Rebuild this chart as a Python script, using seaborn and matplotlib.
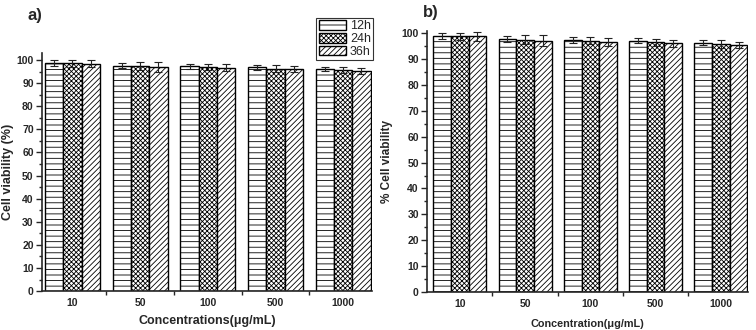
import matplotlib
matplotlib.use("Agg")
import matplotlib.pyplot as plt
import seaborn as sns
import pandas as pd
from matplotlib.ticker import MultipleLocator

# concentrations and time points
concentrations = ["10", "50", "100", "500", "1000"]
times = ["12h", "24h", "36h"]

# panel a) viability (%)
a_12h = [98.8, 97.6, 97.3, 96.9, 96.2]
a_24h = [98.6, 97.3, 97.0, 96.3, 95.8]
a_36h = [98.4, 97.0, 96.7, 96.0, 95.2]
a_err_12h = [1.2, 1.2, 1.1, 1.1, 1.0]
a_err_24h = [1.6, 1.7, 1.4, 1.5, 1.3]
a_err_36h = [1.5, 2.0, 1.5, 1.3, 1.3]

# panel b) viability (%)
b_12h = [99.0, 97.8, 97.4, 97.0, 96.3]
b_24h = [98.7, 97.5, 97.1, 96.5, 95.8]
b_36h = [98.7, 97.1, 96.7, 96.1, 95.4]
b_err_12h = [1.2, 1.2, 1.1, 1.0, 1.0]
b_err_24h = [1.5, 1.6, 1.5, 1.4, 1.4]
b_err_36h = [1.6, 2.2, 1.5, 1.4, 1.3]

hatches = ["---", "xxxxxxx", "//////"]

sns.set_style("ticks")
plt.rcParams["font.family"] = ["Liberation Sans", "DejaVu Sans"]
plt.rcParams["font.weight"] = "bold"
plt.rcParams["hatch.linewidth"] = 0.6


def make_df(v12, v24, v36):
    rows = []
    for vals, t in zip([v12, v24, v36], times):
        for c, v in zip(concentrations, vals):
            rows.append({"conc": c, "time": t, "val": v})
    return pd.DataFrame(rows)


def draw(ax, vals, errs, ylim, xlim):
    df = make_df(*vals)
    sns.barplot(data=df, x="conc", y="val", hue="time", order=concentrations,
                hue_order=times, palette={t: "white" for t in times},
                edgecolor="black", linewidth=1.0, errorbar=None, width=0.81,
                ax=ax, legend=True)
    bar_conts = list(ax.containers)
    for i, cont in enumerate(bar_conts):
        for bar, e in zip(cont, errs[i]):
            bar.set_hatch(hatches[i])
            bar.set_edgecolor("black")
            cx = bar.get_x() + bar.get_width() / 2
            ax.errorbar(cx, bar.get_height(), yerr=e, color="#222222",
                        capsize=3, elinewidth=0.8, capthick=0.8)
    ax.set_ylim(*ylim)
    ax.set_xlim(*xlim)
    ax.yaxis.set_major_locator(MultipleLocator(10))
    ax.yaxis.set_minor_locator(MultipleLocator(5))
    ax.set_xticks(range(len(concentrations)))
    ax.set_xticklabels(concentrations)
    ax.set_xticks([i + 0.5 for i in range(len(concentrations) - 1)], minor=True)
    ax.tick_params(axis="x", which="major", length=0, labelsize=7.5, pad=5)
    ax.tick_params(axis="x", which="minor", length=3, width=1)
    ax.tick_params(axis="y", which="major", length=4, width=1, labelsize=7.5, pad=2)
    ax.tick_params(axis="y", which="minor", length=2, width=1)
    for s in ["left", "bottom"]:
        ax.spines[s].set_linewidth(1.2)
    sns.despine(ax=ax)


fig = plt.figure(figsize=(7.56, 3.3), dpi=100)
ax1 = fig.add_axes([0.0556, 0.118, 0.436, 0.721])
ax2 = fig.add_axes([0.565, 0.115, 0.424, 0.791])

draw(ax1, [a_12h, a_24h, a_36h], [a_err_12h, a_err_24h, a_err_36h], (0, 103), (-0.45, 4.42))
draw(ax2, [b_12h, b_24h, b_36h], [b_err_12h, b_err_24h, b_err_36h], (0, 100.8), (-0.5, 4.41))

ax1.set_xlabel("Concentrations(\u03bcg/mL)", fontsize=9, fontweight="bold", labelpad=5)
ax1.set_ylabel("Cell viability (%)", fontsize=9, fontweight="bold", labelpad=2)
ax2.set_xlabel("Concentration(\u03bcg/mL)", fontsize=7.8, fontweight="bold", labelpad=7)
ax2.set_ylabel("% Cell viability", fontsize=8.5, fontweight="bold", labelpad=6)

leg = ax1.legend(loc="upper right", bbox_to_anchor=(0.494, 0.946),
                 bbox_transform=fig.transFigure, frameon=True,
                 fancybox=False, edgecolor="black", fontsize=9,
                 handlelength=2.2, handleheight=0.8, labelspacing=0.05,
                 borderpad=0.2, handletextpad=0.3, borderaxespad=0)
leg.get_frame().set_linewidth(0.8)
for t in leg.get_texts():
    t.set_fontweight("normal")
for p, h in zip(leg.legend_handles, hatches):
    p.set_hatch(h)
    p.set_facecolor("white")
    p.set_edgecolor("black")
ax2.get_legend().remove()

fig.text(0.037, 0.94, "a)", fontsize=12, fontweight="bold")
fig.text(0.559, 0.948, "b)", fontsize=12, fontweight="bold")

fig.savefig("out.png", dpi=100)
